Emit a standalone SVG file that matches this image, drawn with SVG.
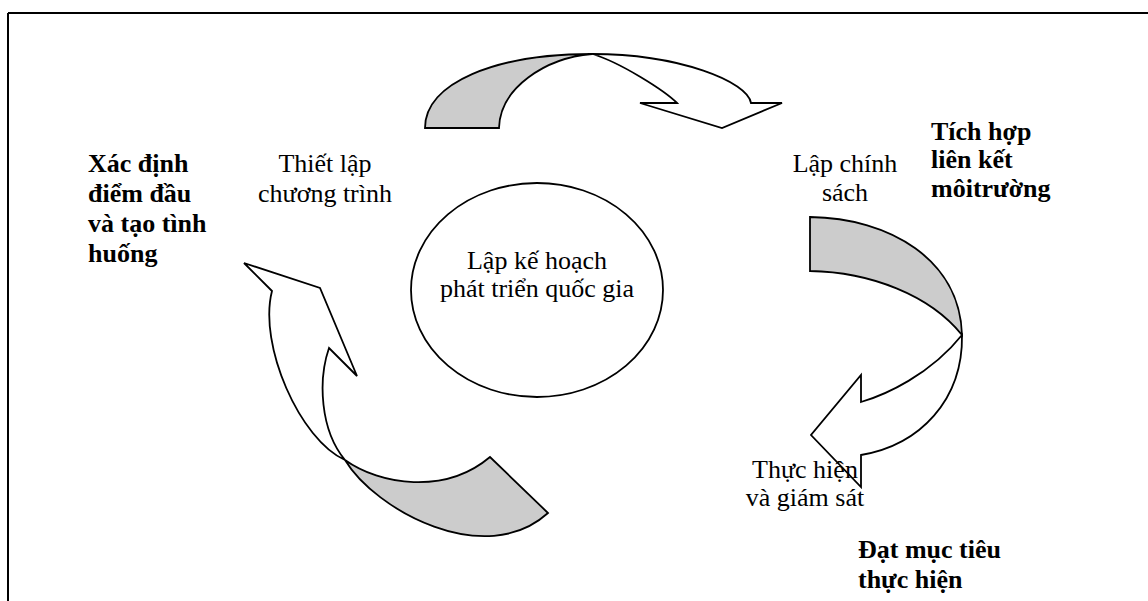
<svg xmlns="http://www.w3.org/2000/svg" width="1148" height="601" viewBox="0 0 1148 601">
  <style>
    .band { fill: #ffffff; stroke: #000000; stroke-width: 1.8; stroke-linejoin: miter; }
    .back { fill: #cccccc; stroke: #000000; stroke-width: 1.8; stroke-linejoin: miter; }
    .frame { stroke: #000000; stroke-width: 2; fill: none; }
    .t { font-family: "Liberation Serif", "Times New Roman", serif; font-size: 26px; fill: #000000; }
    .c { text-anchor: middle; }
    .b { font-weight: bold; }
  </style>
  <rect width="1148" height="601" fill="#ffffff"/>

  <!-- page frame (top and left edges) -->
  <g id="frame">
    <line class="frame" x1="8" y1="13" x2="1148" y2="13"/>
    <line class="frame" x1="8" y1="13" x2="8" y2="601"/>
  </g>

  <!-- curved arrows forming the cycle -->
  <g id="connectors">
    <!-- top: programme setting to policy -->
    <g id="arrow-top">
      <path class="back" d="M425,128 C425,83 495,54 592,54 C545,58 500,88 499,128 Z"/>
      <path class="band" d="M592,54 C680,54 748,82 751,103 L782,103 L722,128 L640,103 L677,103 C665,91 620,62 592,54 Z"/>
    </g>
    <!-- right: policy to implementation -->
    <g id="arrow-right">
      <path class="back" d="M810,217 C890,218 960,260 962,335 C930,295 870,272 810,271 Z"/>
      <path class="band" d="M962,335 C963,400 920,445 861,455 L861,487 L811,435 L861,375 L861,402 C885,395 930,375 962,335 Z"/>
    </g>
    <!-- left: implementation back to programme setting -->
    <g id="arrow-left">
      <path class="back" d="M345,460 C380,485 445,495 490,457 L548,513 C485,570 375,510 345,460 Z"/>
      <path class="band" d="M272,291 L244,263 L320,288 L357,376 L329,348 C318,380 320,430 345,460 C300,440 258,345 272,291 Z"/>
    </g>
  </g>

  <!-- centre: national development planning -->
  <g id="node-centre">
    <ellipse cx="537" cy="290" rx="126" ry="107" fill="#ffffff" stroke="#000000" stroke-width="1.8"/>
    <text class="t c" x="537" y="269">Lập kế hoạch</text>
    <text class="t c" x="537" y="297">phát triển quốc gia</text>
  </g>

  <g id="node-programme">
    <text class="t c" x="325" y="172">Thiết lập</text>
    <text class="t c" x="325" y="202">chương trình</text>
  </g>

  <g id="node-starting-point">
    <text class="t b" x="88" y="172">Xác định</text>
    <text class="t b" x="88" y="202">điểm đầu</text>
    <text class="t b" x="88" y="232">và tạo tình</text>
    <text class="t b" x="88" y="262">huống</text>
  </g>

  <g id="node-policy">
    <text class="t c" x="845" y="172">Lập chính</text>
    <text class="t c" x="845" y="201">sách</text>
  </g>

  <g id="node-integration">
    <text class="t b" x="931" y="140">Tích hợp</text>
    <text class="t b" x="931" y="168">liên kết</text>
    <text class="t b" x="931" y="197">môitrường</text>
  </g>

  <g id="node-implementation">
    <text class="t c" x="805" y="478">Thực hiện</text>
    <text class="t c" x="805" y="506">và giám sát</text>
  </g>

  <g id="node-targets">
    <text class="t b" x="858" y="558">Đạt mục tiêu</text>
    <text class="t b" x="858" y="588">thực hiện</text>
  </g>
</svg>
